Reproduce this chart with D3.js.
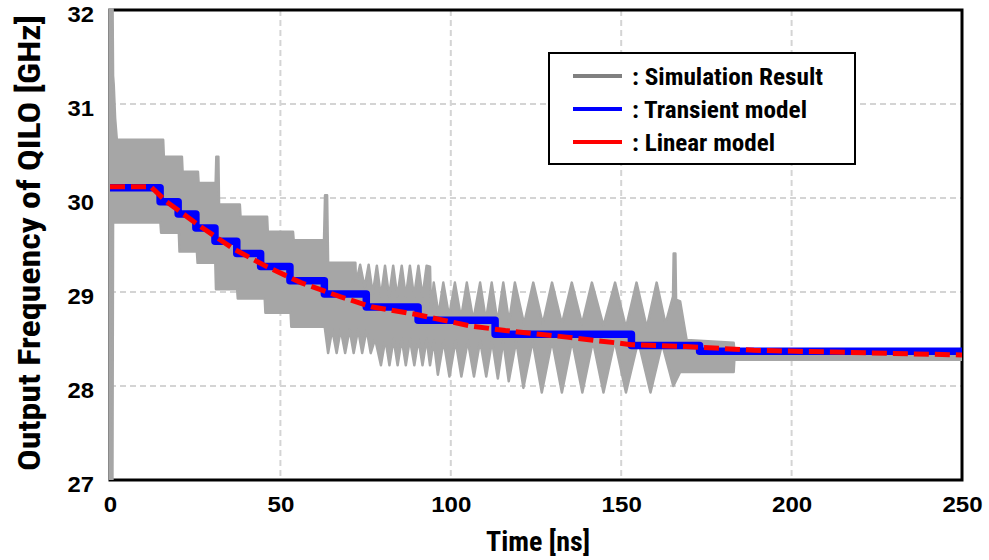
<!DOCTYPE html>
<html>
<head>
<meta charset="utf-8">
<script src="https://cdn.jsdelivr.net/npm/d3@7"></script>
<style>
body { margin: 0; background: #fff; }
text { font-family: "Liberation Sans Narrow", "Arial Narrow", "Roboto Condensed", "DejaVu Sans Condensed", sans-serif; font-weight: bold; fill: #000; }
.tick text { font-family: "Liberation Sans", Arial, sans-serif; }
</style>
</head>
<body>
<svg id="chart" width="989" height="560"></svg>
<script>
/////////////////////////////////////////////////////////////////////////////////////
// Data
var xTicks = [0, 50, 100, 150, 200, 250];
var yTicks = [27, 28, 29, 30, 31, 32];
var xGrid = [50, 100, 150, 200];
var yGrid = [28, 29, 30, 31];

// simulation result: upper / lower envelope of the fast oscillation, [time ns, GHz]
var simUpper = [
  [0,32.3],[0.7,32.3],[0.9,31.3],[1.1,31.2],[1.5,30.85],[2.0,30.62],
  [15.6,30.62],[15.8,30.44],[21.1,30.44],[21.3,30.28],[25.8,30.28],[26.0,30.16],[31.0,30.16],
  [31.2,30.44],[31.8,30.44],[32.0,29.93],[38.1,29.93],[38.3,29.80],[46.1,29.80],[46.3,29.64],[53.7,29.64],[53.9,29.55],[62.8,29.55],
  [63.1,30.03],[63.7,30.03],[64.0,29.31],[72.0,29.31],
  [72.2,29.1],[73.4,29.29],[74.7,29.05],[75.9,29.29],[77.1,28.98],[78.3,29.28],[79.5,28.95],[80.7,29.28],[81.9,28.95],[83.1,29.28],
  [84.3,28.95],[85.6,29.28],[86.8,28.95],[88.0,29.28],[89.2,28.95],[90.5,29.28],[91.7,28.95],[92.9,29.28],[93.9,29.27],
  [94.2,28.78],[95.0,29.1],[96.4,28.76],[97.8,29.1],[99.5,28.74],[101.2,29.1],[103.0,28.72],[104.7,29.1],[106.6,28.7],[108.6,29.1],
  [110.3,28.7],[112.0,29.1],[113.7,28.68],[115.4,29.1],[117.1,28.68],[118.8,29.1],[121.5,28.66],[124.2,29.1],[127.0,28.66],[129.7,29.1],
  [132.6,28.66],[135.5,29.1],[138.5,28.66],[141.4,29.1],[144.8,28.64],[148.2,29.1],[151.4,28.62],[154.5,29.1],[157.5,28.62],[160.4,29.1],
  [163.0,28.66],[165.2,28.95],[165.4,29.41],[165.9,29.41],[166.1,28.92],[167.3,28.9],[169.2,28.49],[183.0,28.46],[183.2,28.38],[250,28.38]
];
var simLower = [
  [0,26.8],[0.7,26.8],[0.9,29.74],[14.8,29.74],[15.0,29.63],[20.2,29.63],[20.4,29.43],[25.5,29.43],[25.7,29.31],[30.9,29.31],
  [31.1,29.03],[37.3,29.03],[37.5,28.93],[45.4,28.93],[45.6,28.78],[53.0,28.78],[53.2,28.63],[63.0,28.63],
  [64.0,28.35],[65.2,28.6],[66.5,28.35],[67.7,28.6],[69.0,28.35],[70.3,28.6],[71.5,28.35],[72.8,28.6],[74.0,28.35],[75.3,28.6],[76.5,28.35],
  [77.8,28.5],[79.5,28.22],[80.8,28.5],[82.0,28.22],[83.2,28.5],[84.4,28.22],[85.6,28.5],[86.8,28.22],[88.0,28.5],[89.3,28.22],
  [90.5,28.5],[91.7,28.22],[92.9,28.5],[93.9,28.22],
  [95.0,28.48],[96.2,28.12],[97.9,28.48],[99.6,28.1],[101.4,28.48],[103.1,28.1],[105.0,28.48],[106.8,28.1],[108.6,28.48],[110.4,28.1],
  [112.1,28.48],[113.8,28.08],[115.4,28.48],[117.0,28.05],[119.2,28.48],[121.3,27.98],[124.0,28.48],[126.7,27.93],[129.7,28.48],[132.6,27.93],
  [135.6,28.48],[138.6,27.93],[141.7,28.48],[144.8,27.93],[148.1,28.48],[151.4,27.93],[155.0,28.48],[158.6,27.93],[162.0,28.45],[165.3,28.0],
  [167.3,28.15],[183.0,28.15],[183.2,28.28],[250,28.28]
];

// transient model (staircase)
var transT = [0, 14.7, 20.0, 25.2, 30.8, 37.2, 44.2, 52.8, 62.9, 75.2, 90.4, 113.0, 153.0, 173.0, 250];
var transV = [30.11, 29.96, 29.83, 29.68, 29.54, 29.41, 29.27, 29.12, 28.98, 28.84, 28.70, 28.55, 28.43, 28.37, 28.37];

// linear model
var linT = [0, 12, 16.6, 26.4, 36.2, 46, 56, 67.5, 77, 90, 105.6, 116, 134, 153, 169, 189, 250];
var linV = [30.12, 30.12, 29.96, 29.70, 29.46, 29.27, 29.10, 28.95, 28.84, 28.76, 28.64, 28.59, 28.52, 28.44, 28.42, 28.38, 28.33];

var legendLabels = [": Simulation Result", ": Transient model", ": Linear model"];
var legendColors = ["#808080", "#0000ff", "#ff0000"];

/////////////////////////////////////////////////////////////////////////////////////
// Margins
var svg = d3.select("#chart");
var w = 989, h = 560;
var margin = {left: 110, right: 27, top: 10, bottom: 80};
var graphic_w = w - margin.left - margin.right;
var graphic_h = h - margin.top - margin.bottom;

var xScale = d3.scaleLinear().domain([0, 250]).range([margin.left, margin.left + graphic_w]);
var yScale = d3.scaleLinear().domain([27, 32]).range([margin.top + graphic_h, margin.top]);

svg.append("defs").append("clipPath").attr("id", "plotClip")
   .append("rect")
   .attr("x", margin.left - 3).attr("y", margin.top - 2)
   .attr("width", graphic_w + 3).attr("height", graphic_h + 2);

// gridlines
svg.selectAll(".vgrid").data(xGrid).enter().append("line")
   .attr("class", "vgrid")
   .attr("x1", function(d) { return xScale(d); }).attr("x2", function(d) { return xScale(d); })
   .attr("y1", yScale(32)).attr("y2", yScale(27))
   .style("stroke", "#d4d4d4").style("stroke-width", 2).style("stroke-dasharray", "6,4");
svg.selectAll(".hgrid").data(yGrid).enter().append("line")
   .attr("class", "hgrid")
   .attr("x1", xScale(0)).attr("x2", xScale(250))
   .attr("y1", function(d) { return yScale(d); }).attr("y2", function(d) { return yScale(d); })
   .style("stroke", "#d4d4d4").style("stroke-width", 2).style("stroke-dasharray", "6,4");

// frame
svg.append("rect")
   .attr("x", xScale(0)).attr("y", yScale(32))
   .attr("width", xScale(250) - xScale(0)).attr("height", yScale(27) - yScale(32))
   .style("fill", "none").style("stroke", "#000").style("stroke-width", 3);

/////////////////////////////////////////////////////////////////////////////////////
// Plotting
var line = d3.line()
   .x(function(d) { return xScale(d[0]); })
   .y(function(d) { return yScale(d[1]); });

// simulation band: upper envelope forward, lower envelope back
var simPoly = simUpper.concat(simLower.slice().reverse());
svg.append("path")
   .attr("d", line(simPoly) + "Z")
   .attr("clip-path", "url(#plotClip)")
   .style("fill", "#a6a6a6").style("stroke", "#a6a6a6").style("stroke-width", 2.5)
   .style("stroke-linejoin", "round");

var transData = transT.map(function(t, i) { return [t, transV[i]]; });
svg.append("path")
   .attr("d", line.curve(d3.curveStepAfter)(transData))
   .style("fill", "none").style("stroke", "#0000ff").style("stroke-width", 7.5)
   .style("stroke-linejoin", "round");

var linData = linT.map(function(t, i) { return [t, linV[i]]; });
svg.append("path")
   .attr("d", line.curve(d3.curveLinear)(linData))
   .style("fill", "none").style("stroke", "#ff0000").style("stroke-width", 5)
   .style("stroke-dasharray", "15,6");

/////////////////////////////////////////////////////////////////////////////////////
// Axes (labels only)
var xAxis = svg.append("g")
   .attr("transform", "translate(0," + (yScale(27) + 12) + ")")
   .call(d3.axisBottom(xScale).tickValues(xTicks).tickFormat(d3.format("d")).tickSize(0).tickPadding(4));
xAxis.select(".domain").remove();
xAxis.selectAll("text").style("font-size", "22px").style("font-family", null)
   .attr("textLength", function(d) { return String(d).length * 13.4; })
   .attr("lengthAdjust", "spacingAndGlyphs");

var yAxis = svg.append("g")
   .attr("transform", "translate(" + (xScale(0) - 14) + ",4)")
   .call(d3.axisLeft(yScale).tickValues(yTicks).tickFormat(d3.format("d")).tickSize(0).tickPadding(2));
yAxis.select(".domain").remove();
yAxis.selectAll("text").style("font-size", "22px").style("font-family", null)
   .attr("textLength", 26.5)
   .attr("lengthAdjust", "spacingAndGlyphs");

svg.append("text")
   .attr("x", 538).attr("y", 551)
   .attr("text-anchor", "middle")
   .attr("textLength", 104).attr("lengthAdjust", "spacingAndGlyphs")
   .style("font-size", "27px")
   .text("Time [ns]");

svg.append("text")
   .attr("transform", "translate(40," + 243 + ") rotate(-90)")
   .attr("text-anchor", "middle")
   .attr("textLength", 456).attr("lengthAdjust", "spacingAndGlyphs")
   .style("font-size", "31px")
   .text("Output Frequency of QILO [GHz]");

/////////////////////////////////////////////////////////////////////////////////////
// Legend
var legend = svg.append("g");
legend.append("rect")
   .attr("x", 549).attr("y", 53).attr("width", 306).attr("height", 111)
   .style("fill", "#fff").style("stroke", "#000").style("stroke-width", 2);
var legendLen = [191, 175, 143];
legend.selectAll(".legLine").data(legendLabels).enter().append("line")
   .attr("class", "legLine")
   .attr("x1", 573).attr("x2", 622)
   .attr("y1", function(d, i) { return 76 + i * 33; })
   .attr("y2", function(d, i) { return 76 + i * 33; })
   .style("stroke", function(d, i) { return legendColors[i]; })
   .style("stroke-width", 4);
legend.selectAll(".legText").data(legendLabels).enter().append("text")
   .attr("class", "legText")
   .attr("x", 632)
   .attr("y", function(d, i) { return 85 + i * 33; })
   .attr("textLength", function(d, i) { return legendLen[i]; })
   .attr("lengthAdjust", "spacingAndGlyphs")
   .style("font-size", "23px")
   .text(function(d) { return d; });
</script>
</body>
</html>
